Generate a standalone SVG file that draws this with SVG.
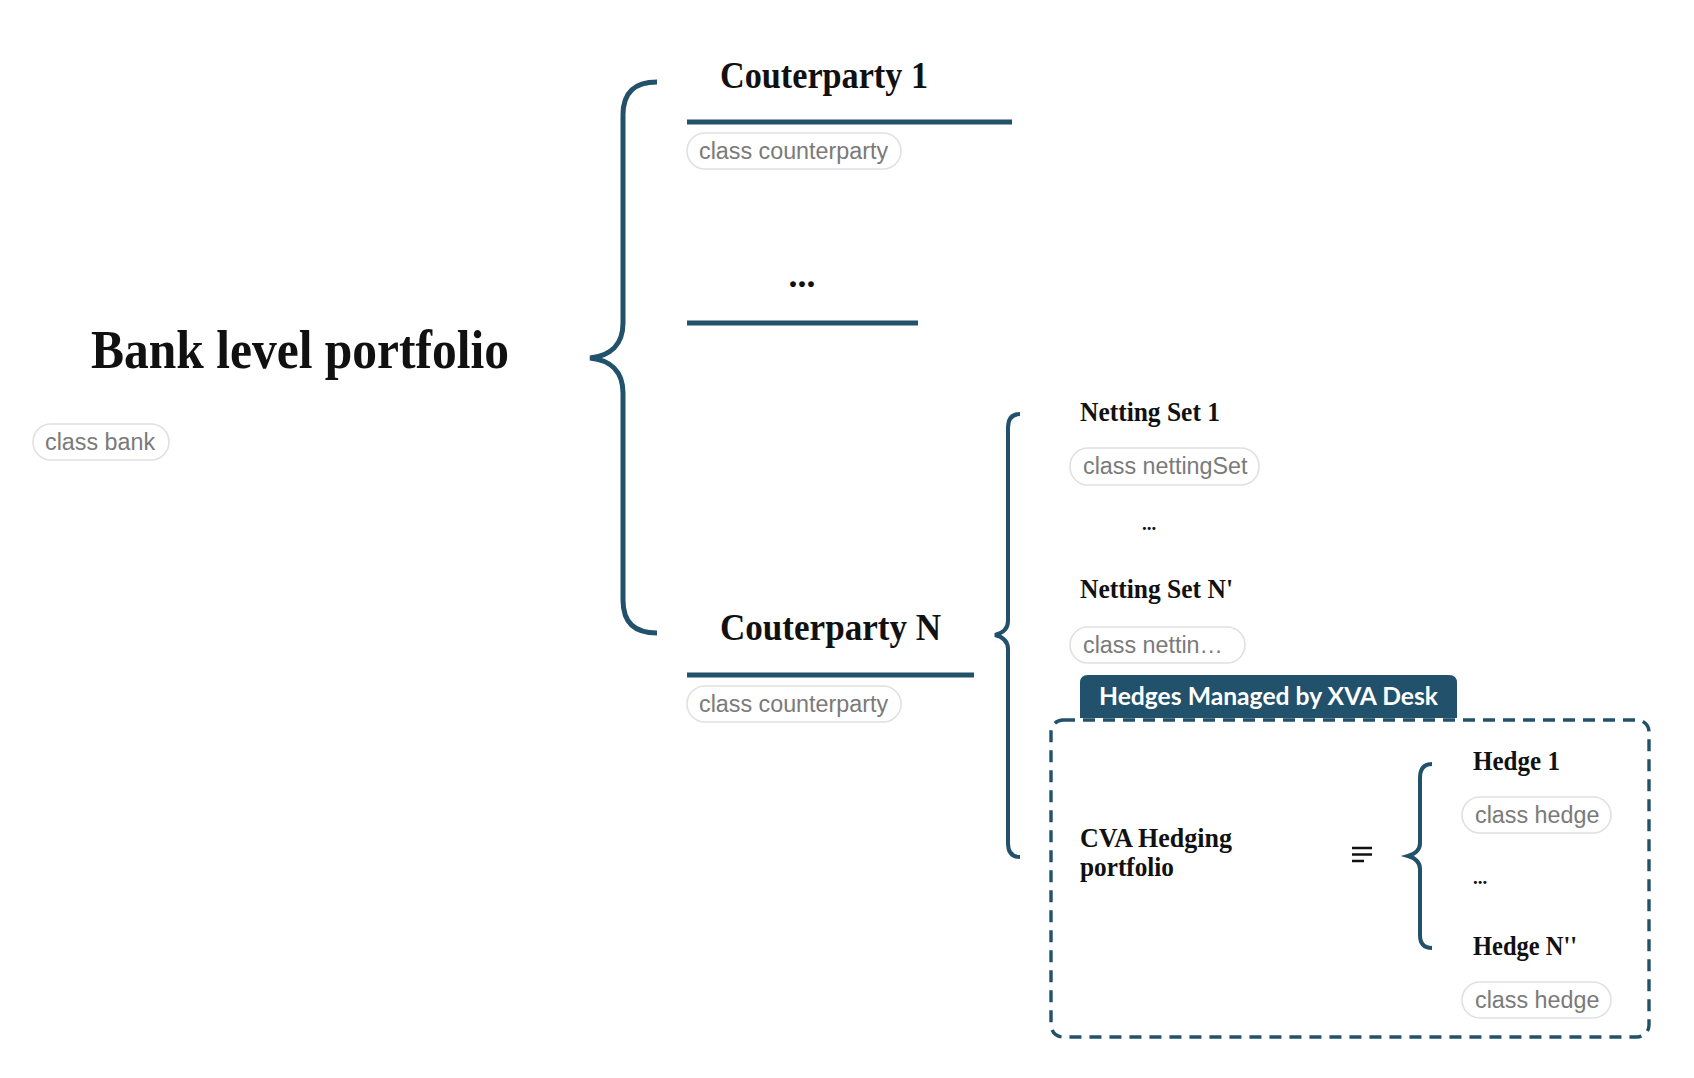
<svg xmlns="http://www.w3.org/2000/svg" width="1694" height="1078" viewBox="0 0 1694 1078">
<style>
.t{font-family:"Liberation Serif","Times New Roman",serif;font-weight:bold;fill:#111}
.pill{fill:#fff;stroke:#e0e0e0;stroke-width:1.6}
.pt{font-family:"Liberation Sans",Arial,sans-serif;font-size:23.3px;fill:#7a7a7a}
.br{fill:none;stroke:#22516b;stroke-linecap:butt}
.ul{stroke:#22516b;stroke-width:5}
</style>
<rect width="1694" height="1078" fill="#fff"/>
<g id="connectors">
<path class="br" stroke-width="5" d="M657,82 C635,82 623,92 623,115 L623,323 C623,345 610,356 590,358 C610,360 623,371 623,393 L623,600 C623,623 635,633 657,633"/>
<path class="br" stroke-width="4" d="M1020,414 C1012,414 1008,419 1008,428 L1008,621 C1008,629 1003,633 995,635 C1003,637 1008,641 1008,649 L1008,843 C1008,852 1012,857 1020,857"/>
<path class="br" stroke-width="4" d="M1432,764 C1424,764 1420,769 1420,778 L1420,843 C1420,850 1415,854 1408,856 C1415,858 1420,862 1420,869 L1420,935 C1420,944 1424,948 1432,948"/>
<line class="ul" x1="687" y1="122" x2="1012" y2="122"/>
<line class="ul" x1="687" y1="323" x2="918" y2="323"/>
<line class="ul" x1="687" y1="675" x2="974" y2="675"/>
</g>
<g id="bank">
<text class="t" x="91" y="368" font-size="54" textLength="418" lengthAdjust="spacingAndGlyphs">Bank level portfolio</text>
<rect class="pill" x="33" y="424" width="136" height="36" rx="18"/>
<text class="pt" x="45" y="450">class bank</text>
</g>
<g id="counterparty1">
<text class="t" x="720" y="88" font-size="38" textLength="208" lengthAdjust="spacingAndGlyphs">Couterparty 1</text>
<rect class="pill" x="687" y="133" width="214" height="36" rx="18"/>
<text class="pt" x="699" y="159">class counterparty</text>
</g>
<g id="counterparty-dots">
<text class="t" x="802" y="287" font-size="36" text-anchor="middle">...</text>
</g>
<g id="counterpartyN">
<text class="t" x="720" y="640" font-size="38" textLength="221" lengthAdjust="spacingAndGlyphs">Couterparty N</text>
<rect class="pill" x="687" y="686" width="214" height="36" rx="18"/>
<text class="pt" x="699" y="712">class counterparty</text>
</g>
<g id="nettingSet1">
<text class="t" x="1080" y="421" font-size="28" textLength="140" lengthAdjust="spacingAndGlyphs">Netting Set 1</text>
<rect class="pill" x="1070" y="448" width="189" height="37" rx="18"/>
<text class="pt" x="1083" y="474">class nettingSet</text>
</g>
<g id="netting-dots">
<text class="t" x="1149" y="530" font-size="19" text-anchor="middle">...</text>
</g>
<g id="nettingSetN">
<text class="t" x="1080" y="598" font-size="28" textLength="153" lengthAdjust="spacingAndGlyphs">Netting Set N'</text>
<rect class="pill" x="1070" y="627" width="175" height="36" rx="18"/>
<text class="pt" x="1083" y="653">class nettin…</text>
</g>
<g id="hedges-group">
<path d="M1080,718 L1080,683 Q1080,675 1088,675 L1449,675 Q1457,675 1457,683 L1457,718 Z" fill="#22516b"/>
<text x="1099" y="705" font-family="Lato,'Liberation Sans',sans-serif" font-weight="bold" font-size="24" fill="#fff" textLength="339" lengthAdjust="spacingAndGlyphs">Hedges Managed by XVA Desk</text>
<rect x="1051" y="720" width="598" height="317" rx="12" fill="none" stroke="#22516b" stroke-width="3.4" stroke-dasharray="12 8"/>
</g>
<g id="cvaHedging">
<text class="t" x="1080" y="847" font-size="28" textLength="152" lengthAdjust="spacingAndGlyphs">CVA Hedging</text>
<text class="t" x="1080" y="876" font-size="28" textLength="94" lengthAdjust="spacingAndGlyphs">portfolio</text>
<g stroke="#111" stroke-width="2.5">
<line x1="1352" y1="848" x2="1372" y2="848"/>
<line x1="1352" y1="854.5" x2="1372" y2="854.5"/>
<line x1="1352" y1="861" x2="1364" y2="861"/>
</g>
</g>
<g id="hedge1">
<text class="t" x="1473" y="770" font-size="28" textLength="87" lengthAdjust="spacingAndGlyphs">Hedge 1</text>
<rect class="pill" x="1462" y="797" width="149" height="36" rx="18"/>
<text class="pt" x="1475" y="823">class hedge</text>
</g>
<g id="hedge-dots">
<text class="t" x="1480" y="884" font-size="19" text-anchor="middle">...</text>
</g>
<g id="hedgeN">
<text class="t" x="1473" y="955" font-size="28" textLength="104" lengthAdjust="spacingAndGlyphs">Hedge N''</text>
<rect class="pill" x="1462" y="982" width="149" height="36" rx="18"/>
<text class="pt" x="1475" y="1008">class hedge</text>
</g>
</svg>
